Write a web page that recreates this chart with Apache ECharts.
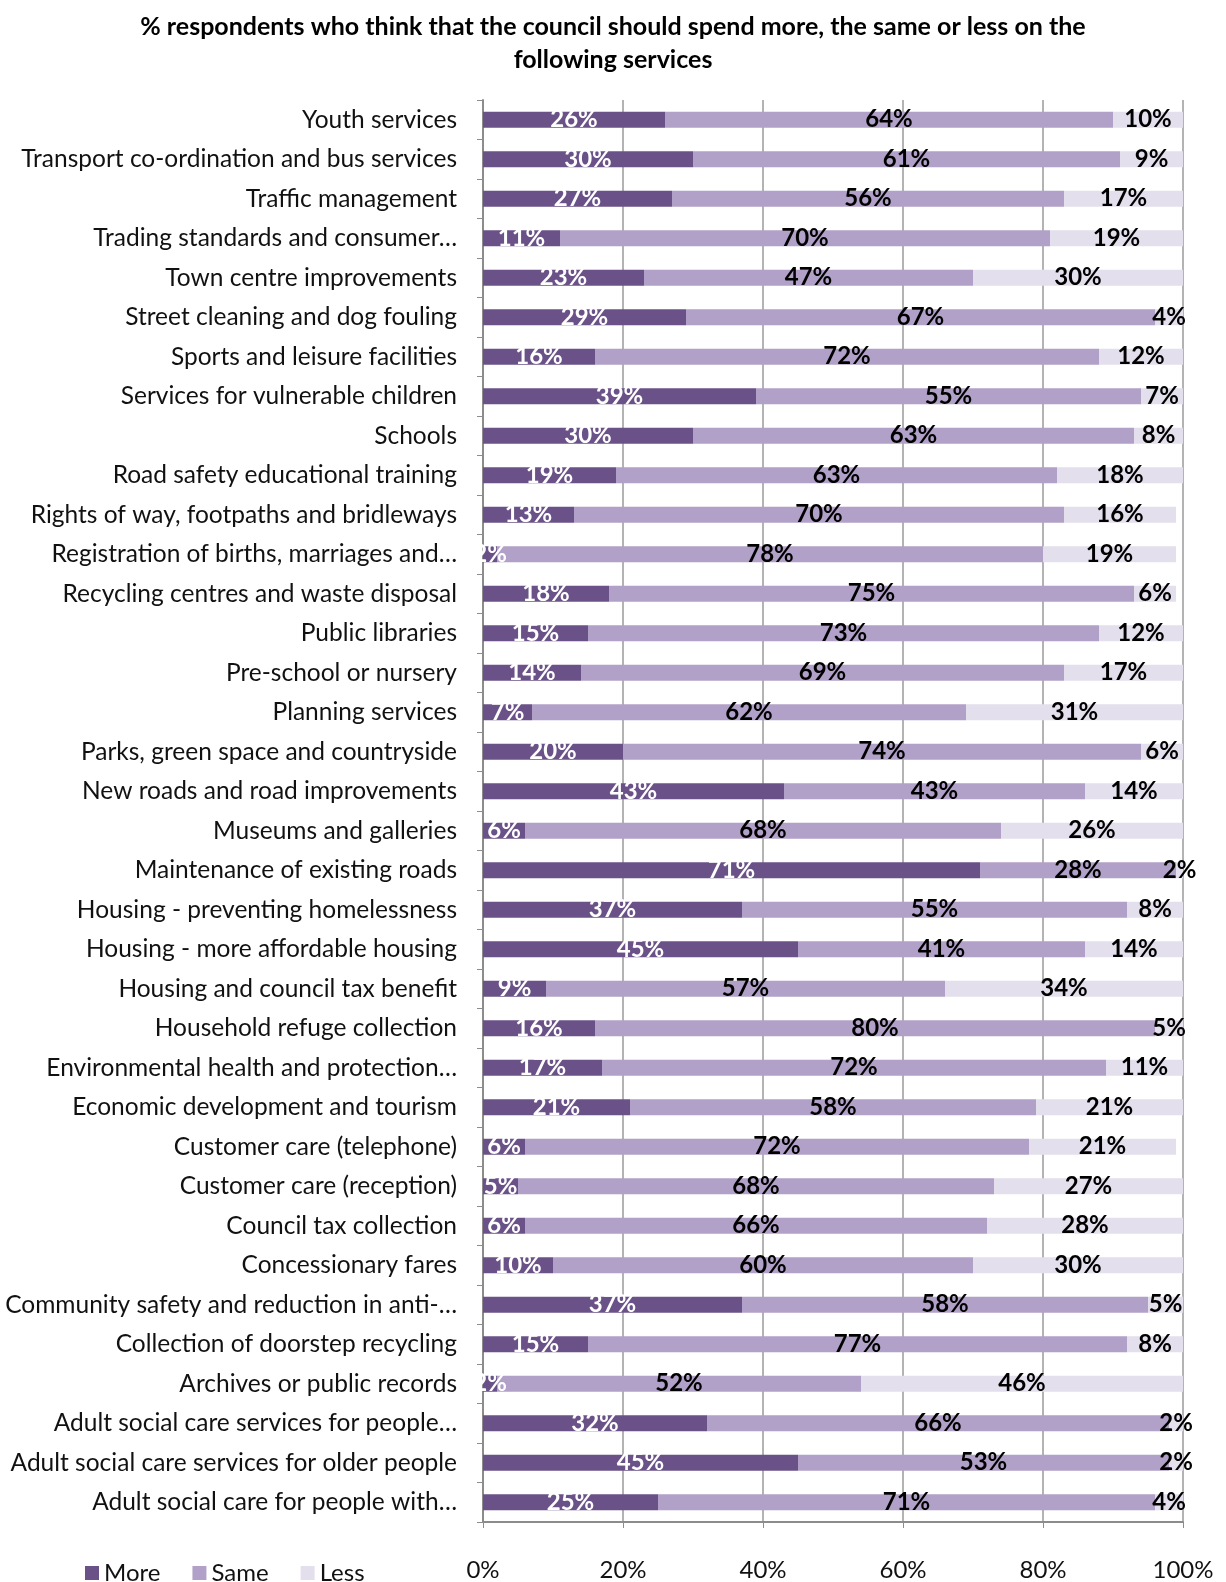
<!DOCTYPE html>
<html>
<head>
<meta charset="utf-8">
<title>Council spending</title>
<script src="https://cdn.jsdelivr.net/npm/echarts@6/dist/echarts.min.js"></script>
<style>
    html, body { margin: 0; padding: 0; background: #fff; }
    #main { width: 1226px; height: 1582px; }
</style>
</head>
<body>
<div id="main"></div>
<script type="text/javascript">
    // services, top to bottom as shown
    var services = [
        'Youth services',
        'Transport co-ordination and bus services',
        'Traffic management',
        'Trading standards and consumer…',
        'Town centre improvements',
        'Street cleaning and dog fouling',
        'Sports and leisure facilities',
        'Services for vulnerable children',
        'Schools',
        'Road safety educational training',
        'Rights of way, footpaths and bridleways',
        'Registration of births, marriages and…',
        'Recycling centres and waste disposal',
        'Public libraries',
        'Pre-school or nursery',
        'Planning services',
        'Parks, green space and countryside',
        'New roads and road improvements',
        'Museums and galleries',
        'Maintenance of existing roads',
        'Housing - preventing homelessness',
        'Housing - more affordable housing',
        'Housing and council tax benefit',
        'Household refuge collection',
        'Environmental health and protection…',
        'Economic development and tourism',
        'Customer care (telephone)',
        'Customer care (reception)',
        'Council tax collection',
        'Concessionary fares',
        'Community safety and reduction in anti-…',
        'Collection of doorstep recycling',
        'Archives or public records',
        'Adult social care services for people…',
        'Adult social care services for older people',
        'Adult social care for people with…'
    ];
    var more = [26, 30, 27, 11, 23, 29, 16, 39, 30, 19, 13, 2, 18, 15, 14, 7, 20, 43, 6, 71,
        37, 45, 9, 16, 17, 21, 6, 5, 6, 10, 37, 15, 2, 32, 45, 25];
    var same = [64, 61, 56, 70, 47, 67, 72, 55, 63, 63, 70, 78, 75, 73, 69, 62, 74, 43, 68, 28,
        55, 41, 57, 80, 72, 58, 72, 68, 66, 60, 58, 77, 52, 66, 53, 71];
    var less = [10, 9, 17, 19, 30, 4, 12, 7, 8, 18, 16, 19, 6, 12, 17, 31, 6, 14, 26, 2,
        8, 14, 34, 5, 11, 21, 21, 27, 28, 30, 5, 8, 46, 2, 2, 4];
    var xTicks = [0, 20, 40, 60, 80, 100];

    var FONT = 'Lato, "Open Sans", sans-serif';

    function seg(name, data, color, labelColor) {
        return {
            name: name,
            type: 'bar',
            stack: 'all',
            barWidth: 16,
            data: data,
            itemStyle: {color: color},
            label: {
                show: true,
                position: 'inside',
                formatter: '{c}%',
                color: labelColor,
                fontFamily: FONT,
                fontWeight: 'bold',
                fontSize: 24,
                offset: [0, 2]
            },
            labelLayout: {hideOverlap: false}
        };
    }

    var chart = echarts.init(document.getElementById('main'));
    chart.setOption({
        animation: false,
        textStyle: {fontFamily: FONT},
        title: {
            text: '% respondents who think that the council should spend more, the same or less on the\nfollowing services',
            left: 'center',
            top: 5,
            textStyle: {fontFamily: FONT, fontWeight: 'bold', fontSize: 25, lineHeight: 33, color: '#000'}
        },
        legend: {
            left: 80,
            top: 1556,
            itemWidth: 14,
            itemHeight: 14,
            itemGap: 32,
            icon: 'rect',
            textStyle: {fontFamily: FONT, fontSize: 24, color: '#111'},
            data: ['More', 'Same', 'Less']
        },
        grid: {left: 483, right: 43, top: 100, bottom: 60},
        xAxis: {
            type: 'value',
            min: 0,
            max: 100,
            interval: 20,
            axisLine: {show: true, lineStyle: {color: '#8c8c8c', width: 2}},
            axisTick: {show: true, length: 6, lineStyle: {color: '#8c8c8c'}},
            splitLine: {show: true, lineStyle: {color: '#9a9a9a', width: 1.5}},
            axisLabel: {
                margin: 36,
                fontSize: 24,
                color: '#111',
                formatter: function (v) { return xTicks.indexOf(v) >= 0 ? v + '%' : ''; }
            }
        },
        yAxis: {
            type: 'category',
            inverse: true,
            data: services,
            axisLine: {show: true, lineStyle: {color: '#8c8c8c', width: 2}},
            axisTick: {show: true, length: 6, lineStyle: {color: '#8c8c8c'}},
            axisLabel: {margin: 26, fontSize: 24.5, color: '#111'}
        },
        series: [
            seg('More', more, '#6a5288', '#fff'),
            seg('Same', same, '#b1a0c7', '#000'),
            seg('Less', less, '#e4dfec', '#000')
        ]
    });
</script>
</body>
</html>
